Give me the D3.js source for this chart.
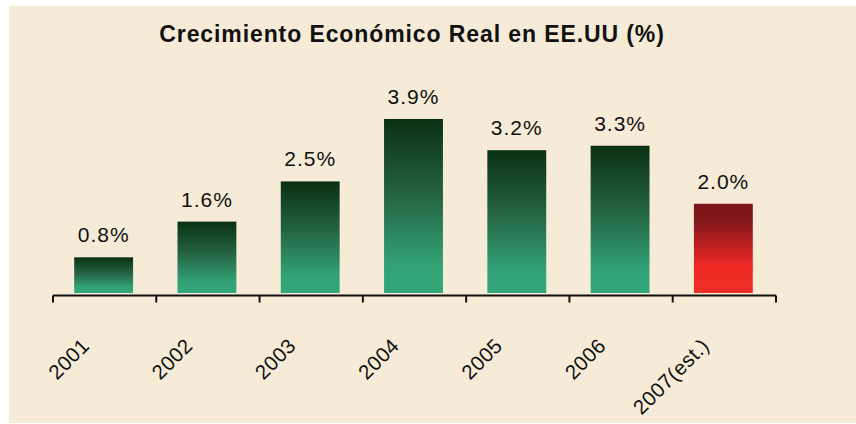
<!DOCTYPE html>
<html>
<head>
<meta charset="utf-8">
<script src="https://cdn.jsdelivr.net/npm/d3@7"></script>
<style>
  body { margin: 0; background: #fff; }
  svg text { font-family: "Liberation Sans", Arial, sans-serif; fill: #111; }
</style>
</head>
<body>
<div id="chart"></div>
<script>
const years = ["2001", "2002", "2003", "2004", "2005", "2006", "2007(est.)"];
const growth = [0.8, 1.6, 2.5, 3.9, 3.2, 3.3, 2.0];
const estimated = [false, false, false, false, false, false, true];

const svgWidth = 856;
const svgHeight = 424;

const svg = d3.select("#chart")
  .append("svg")
  .attr("width", svgWidth)
  .attr("height", svgHeight);

// beige panel
svg.append("rect")
  .attr("x", 9)
  .attr("y", 6)
  .attr("width", svgWidth - 9)
  .attr("height", svgHeight - 7)
  .attr("fill", "#f5ebd7");

const defs = svg.append("defs");

const green = defs.append("linearGradient")
  .attr("id", "gradGreen")
  .attr("x1", 0).attr("y1", 0).attr("x2", 0).attr("y2", 1);
green.append("stop").attr("offset", "0%").attr("stop-color", "#0a3013");
green.append("stop").attr("offset", "45%").attr("stop-color", "#256543");
green.append("stop").attr("offset", "85%").attr("stop-color", "#32a377");
green.append("stop").attr("offset", "100%").attr("stop-color", "#33a679");

const red = defs.append("linearGradient")
  .attr("id", "gradRed")
  .attr("x1", 0).attr("y1", 0).attr("x2", 0).attr("y2", 1);
red.append("stop").attr("offset", "0%").attr("stop-color", "#7a1416");
red.append("stop").attr("offset", "20%").attr("stop-color", "#84161a");
red.append("stop").attr("offset", "70%").attr("stop-color", "#ee2a26");
red.append("stop").attr("offset", "100%").attr("stop-color", "#ef2f28");

const data = years.map((y, i) => ({ year: y, value: growth[i], est: estimated[i] }));

const x = d3.scaleBand()
  .domain(years)
  .range([53, 776])
  .paddingInner(0.43)
  .paddingOuter(0.215);

const y = d3.scaleLinear()
  .domain([0, 4])
  .range([293, 114.5]);

const axisY = 295.5;

// title
svg.append("text")
  .attr("x", 412)
  .attr("y", 42)
  .attr("text-anchor", "middle")
  .style("font-size", "23px")
  .style("font-weight", "bold")
  .style("letter-spacing", "0.9px")
  .text("Crecimiento Económico Real en EE.UU (%)");

// bars
svg.selectAll("rect.bar")
  .data(data)
  .enter()
  .append("rect")
  .attr("class", "bar")
  .attr("x", d => x(d.year) - 1)
  .attr("y", d => y(d.value))
  .attr("width", x.bandwidth())
  .attr("height", d => y(0) - y(d.value))
  .attr("fill", d => d.est ? "url(#gradRed)" : "url(#gradGreen)");

// value labels
svg.selectAll("text.val")
  .data(data)
  .enter()
  .append("text")
  .attr("class", "val")
  .attr("x", d => x(d.year) + x.bandwidth() / 2 - 1)
  .attr("y", d => y(d.value) - 15)
  .attr("text-anchor", "middle")
  .style("font-size", "21px")
  .style("letter-spacing", "1px")
  .text(d => d.value.toFixed(1) + "%");

// category axis line + ticks at band edges
const step = x.step();
const x0 = x.range()[0];
svg.append("line")
  .attr("x1", x0)
  .attr("x2", x.range()[1])
  .attr("y1", axisY)
  .attr("y2", axisY)
  .attr("stroke", "#111")
  .attr("stroke-width", 2);

svg.selectAll("line.tick")
  .data(d3.range(years.length + 1))
  .enter()
  .append("line")
  .attr("class", "tick")
  .attr("x1", i => x0 + i * step)
  .attr("x2", i => x0 + i * step)
  .attr("y1", axisY)
  .attr("y2", axisY + 7)
  .attr("stroke", "#111")
  .attr("stroke-width", 2);

// rotated year labels
svg.selectAll("text.cat")
  .data(data)
  .enter()
  .append("text")
  .attr("class", "cat")
  .attr("text-anchor", "end")
  .attr("transform", d => `translate(${x(d.year) + x.bandwidth() / 2 - 14}, 347) rotate(-45)`)
  .style("font-size", "20.5px")
  .style("letter-spacing", "0.5px")
  .text(d => d.year);
</script>
</body>
</html>
